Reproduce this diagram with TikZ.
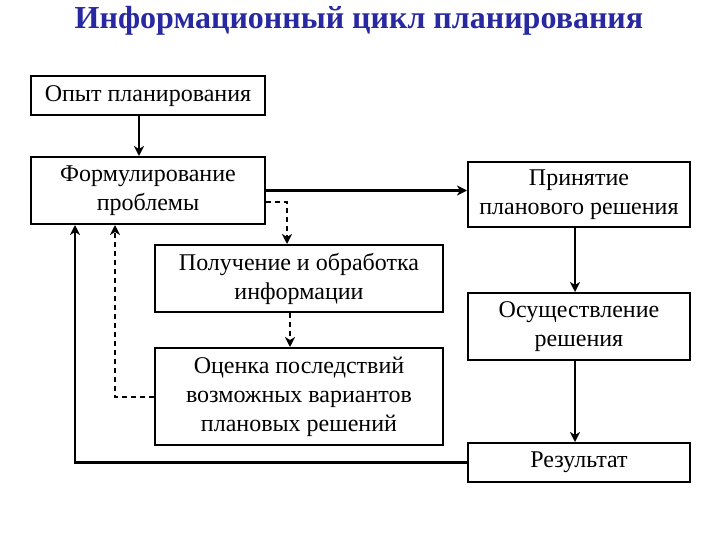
\documentclass[tikz,border=0pt]{standalone}
\usepackage{fontspec}
\setmainfont{Liberation Serif}
\usetikzlibrary{arrows.meta}
\definecolor{bleutitre}{RGB}{40,40,160}

\tikzset{
  bloc/.style={draw, line width=2pt, align=center, inner sep=2pt,
    font=\fontsize{24}{29}\selectfont},
  fleche/.style={line width=2.2pt, -{Stealth[length=10pt,width=10pt,inset=3pt]}},
  pointille/.style={fleche, line width=2pt, dash pattern=on 5pt off 4pt},
  ligne/.style={line width=2pt}
}

\begin{document}
\begin{tikzpicture}[x=1pt, y=-1pt]
		\useasboundingbox (0, 0) rectangle (720, 540);

		% titre
		\node[text=bleutitre, font=\fontsize{32}{38}\selectfont\bfseries] (titre) at (359, 21) {Информационный цикл планирования};

		% colonne gauche
		\node[bloc, minimum width=234pt, minimum height=39pt] (opyt) at (148, 96) {Опыт планирования};
		\node[bloc, minimum width=234pt, minimum height=67pt] (formul) at (148, 190.5) {Формулирование\\проблемы};

		% colonne du milieu
		\node[bloc, minimum width=288pt, minimum height=67pt] (poluch) at (299, 278.5) {Получение и обработка\\информации};
		\node[bloc, minimum width=288pt, minimum height=97pt] (ocenka) at (299, 396.5) {Оценка последствий\\возможных вариантов\\плановых решений};

		% colonne droite
		\node[bloc, minimum width=222pt, minimum height=65pt] (prinyat) at (579, 194.5) {Принятие\\планового решения};
		\node[bloc, minimum width=222pt, minimum height=67pt] (osush) at (579, 326.5) {Осуществление\\решения};
		\node[bloc, minimum width=222pt, minimum height=39pt] (result) at (579, 462.5) {Результат};

		% fleches pleines
		\draw[fleche] ([xshift=-9pt]opyt.south) -- ([xshift=-9pt]formul.north);
		\draw[fleche] (formul.east) -- (formul.east -| prinyat.west);
		\draw[fleche] ([xshift=-4pt]prinyat.south) -- ([xshift=-4pt]osush.north);
		\draw[fleche] ([xshift=-4pt]osush.south) -- ([xshift=-4pt]result.north);

		% retour du resultat
		\draw[fleche] (result.west) -| ([xshift=-73pt]formul.south);

		% fleches pointillees
		\draw[pointille] ([yshift=-12pt]formul.east) -| ([xshift=-12pt]poluch.north);
		\draw[pointille] ([xshift=-9pt]poluch.south) -- ([xshift=-9pt]ocenka.north);
		\draw[pointille] (ocenka.west) -| ([xshift=-33pt]formul.south);

\end{tikzpicture}
\end{document}
